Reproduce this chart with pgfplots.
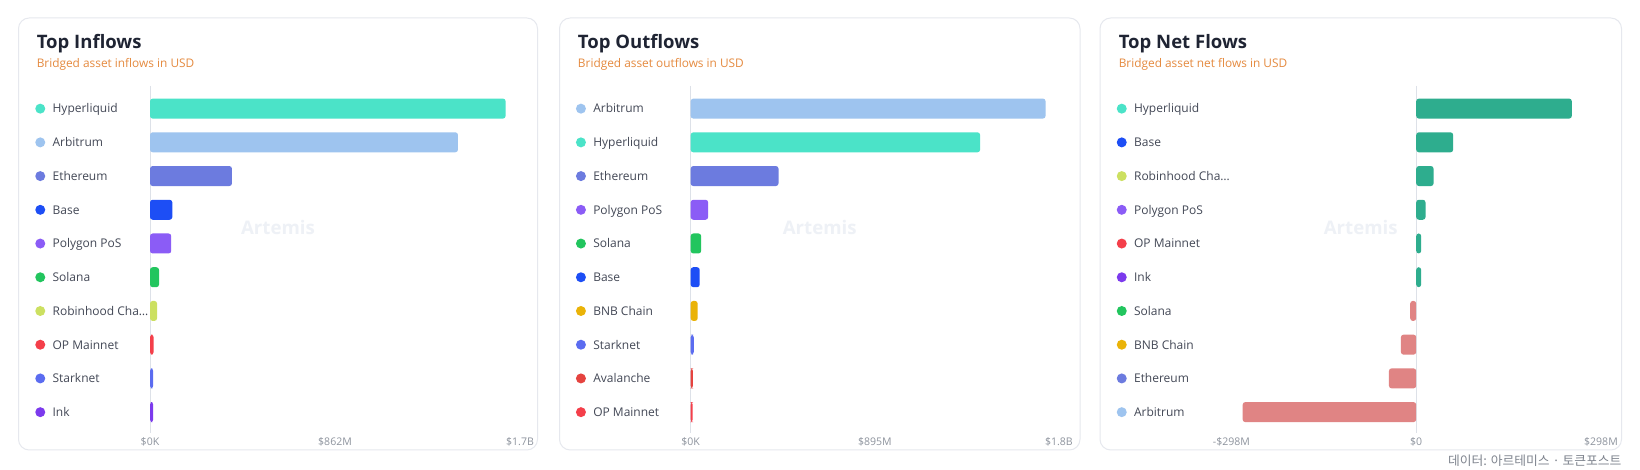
\documentclass[border=0pt]{standalone}
\usepackage{pgfplots}
\pgfplotsset{compat=1.18}
\usepackage{fontspec}
\setmainfont{Open Sans}
\newfontfamily\cjk{Noto Sans CJK KR}

\definecolor{hyper}{HTML}{4BE3C8}
\definecolor{arb}{HTML}{9EC4EF}
\definecolor{eth}{HTML}{6C7BDF}
\definecolor{base}{HTML}{1D4EF5}
\definecolor{poly}{HTML}{8B5CF6}
\definecolor{sol}{HTML}{22C55E}
\definecolor{robin}{HTML}{CCE061}
\definecolor{op}{HTML}{F43F4A}
\definecolor{stark}{HTML}{5B6CF0}
\definecolor{ink}{HTML}{7C3AED}
\definecolor{bnb}{HTML}{EAB308}
\definecolor{avax}{HTML}{E5433F}
\definecolor{netpos}{HTML}{2EAD8E}
\definecolor{netneg}{HTML}{E08484}
\definecolor{border}{HTML}{E6E8EE}
\definecolor{titlec}{HTML}{1F2433}
\definecolor{subc}{HTML}{E58A3F}
\definecolor{labc}{HTML}{434856}
\definecolor{tickc}{HTML}{8E949E}
\definecolor{zerol}{HTML}{DDE1E8}
\definecolor{wm}{HTML}{EEF1F6}
\definecolor{footc}{HTML}{80858F}

\newcommand{\lab}[2]{\tikz[baseline={(0,-3.25pt)}]\fill[#1] (0,0) circle (3.75pt);\hspace{5.5pt}#2}

\pgfplotsset{
  panel/.style={
    xbar, scale only axis,
    height=260.25pt,
    anchor=north west,
    y dir=reverse, ymin=-0.67, ymax=9.62,
    axis line style={draw=none},
    major tick length=0pt,
    ytick={0,1,2,3,4,5,6,7,8,9},
    yticklabel style={anchor=base west, inner sep=0pt, xshift=-86.25pt, yshift=-3.3pt,
      font=\fontsize{9}{11}\selectfont, text=labc},
    xticklabel style={anchor=base, inner sep=0pt, yshift=-9.5pt,
      font=\fontsize{7.9}{9}\selectfont, text=tickc},
    extra x ticks={0},
    extra x tick labels={},
    extra x tick style={grid=major, major grid style={color=zerol, line width=0.75pt}},
    clip=false,
  },
  b/.style={fill=#1, draw=none, bar width=15pt, bar shift=0pt, rounded corners=2pt},
}

\begin{document}
\begin{tikzpicture}[x=0.75pt,y=0.75pt]
\path[fill=white] (0,0) rectangle (1640,470);
% cards
\draw[border, line width=0.75pt, rounded corners=8pt, fill=white] (18.5,452) rectangle (537.5,20);
\draw[border, line width=0.75pt, rounded corners=8pt, fill=white] (559.5,452) rectangle (1080,20);
\draw[border, line width=0.75pt, rounded corners=8pt, fill=white] (1100,452) rectangle (1621.5,20);
% titles
\node[anchor=base west, inner sep=0pt, font=\bfseries\fontsize{13.9}{16}\selectfont, text=titlec] at (36.5,421.7) {Top Inflows};
\node[anchor=base west, inner sep=0pt, font=\fontsize{8.9}{10}\selectfont, text=subc] at (36.5,402.3) {Bridged asset inflows in USD};
\node[anchor=base west, inner sep=0pt, font=\bfseries\fontsize{13.9}{16}\selectfont, text=titlec] at (577.7,421.7) {Top Outflows};
\node[anchor=base west, inner sep=0pt, font=\fontsize{8.9}{10}\selectfont, text=subc] at (577.7,402.3) {Bridged asset outflows in USD};
\node[anchor=base west, inner sep=0pt, font=\bfseries\fontsize{13.9}{16}\selectfont, text=titlec] at (1118.5,421.7) {Top Net Flows};
\node[anchor=base west, inner sep=0pt, font=\fontsize{8.9}{10}\selectfont, text=subc] at (1118.5,402.3) {Bridged asset net flows in USD};
% watermarks
\node[font=\bfseries\fontsize{14}{16}\selectfont, text=wm] at (278,242.3) {Artemis};
\node[font=\bfseries\fontsize{14}{16}\selectfont, text=wm] at (819.7,242.3) {Artemis};
\node[font=\bfseries\fontsize{14}{16}\selectfont, text=wm] at (1360.7,242.3) {Artemis};
% footer
\node[anchor=east, inner sep=0pt, font=\cjk\fontsize{9.6}{11}\selectfont, text=footc] at (1621.7,9.3) {데이터: 아르테미스 · 토큰포스트};

% Panel 1: Top Inflows (USD millions)
\begin{axis}[panel, at={(112.5pt,288pt)}, width=277.5pt,
  xmin=0, xmax=1724, xtick={0,862,1724}, xticklabels={\$0K,\$862M,\$1.7B},
  yticklabels={\lab{hyper}{Hyperliquid},\lab{arb}{Arbitrum},\lab{eth}{Ethereum},\lab{base}{Base},\lab{poly}{Polygon PoS},\lab{sol}{Solana},\lab{robin}{Robinhood Cha…},\lab{op}{OP Mainnet},\lab{stark}{Starknet},\lab{ink}{Ink}}]
\addplot[b=hyper] coordinates {(1657,0)};
\addplot[b=arb] coordinates {(1435,1)};
\addplot[b=eth] coordinates {(382,2)};
\addplot[b=base] coordinates {(104,3)};
\addplot[b=poly] coordinates {(99,4)};
\addplot[b=sol] coordinates {(42,5)};
\addplot[b=robin] coordinates {(33,6)};
\addplot[b=op] coordinates {(17,7)};
\addplot[b=stark] coordinates {(15,8)};
\addplot[b=ink] coordinates {(15,9)};
\end{axis}

% Panel 2: Top Outflows
\begin{axis}[panel, at={(518.0pt,288pt)}, width=276.2pt,
  xmin=0, xmax=1790, xtick={0,895,1790}, xticklabels={\$0K,\$895M,\$1.8B},
  yticklabels={\lab{arb}{Arbitrum},\lab{hyper}{Hyperliquid},\lab{eth}{Ethereum},\lab{poly}{Polygon PoS},\lab{sol}{Solana},\lab{base}{Base},\lab{bnb}{BNB Chain},\lab{stark}{Starknet},\lab{avax}{Avalanche},\lab{op}{OP Mainnet}}]
\addplot[b=arb] coordinates {(1725,0)};
\addplot[b=hyper] coordinates {(1407,1)};
\addplot[b=eth] coordinates {(427,2)};
\addplot[b=poly] coordinates {(85,3)};
\addplot[b=sol] coordinates {(51,4)};
\addplot[b=base] coordinates {(44,5)};
\addplot[b=bnb] coordinates {(34,6)};
\addplot[b=stark] coordinates {(15,7)};
\addplot[b=avax] coordinates {(11,8)};
\addplot[b=op] coordinates {(10,9)};
\end{axis}

% Panel 3: Top Net Flows
\begin{axis}[panel, at={(923.6pt,288pt)}, width=277.1pt,
  xmin=-298, xmax=298, xtick={-298,0,298}, xticklabels={-\$298M,\$0,\$298M},
  yticklabels={\lab{hyper}{Hyperliquid},\lab{base}{Base},\lab{robin}{Robinhood Cha…},\lab{poly}{Polygon PoS},\lab{op}{OP Mainnet},\lab{ink}{Ink},\lab{sol}{Solana},\lab{bnb}{BNB Chain},\lab{eth}{Ethereum},\lab{arb}{Arbitrum}}]
\addplot[b=netpos] coordinates {(251,0)};
\addplot[b=netpos] coordinates {(59.6,1)};
\addplot[b=netpos] coordinates {(28,2)};
\addplot[b=netpos] coordinates {(15,3)};
\addplot[b=netpos] coordinates {(8,4)};
\addplot[b=netpos] coordinates {(8,5)};
\addplot[b=netneg] coordinates {(-9.7,6)};
\addplot[b=netneg] coordinates {(-24.7,7)};
\addplot[b=netneg] coordinates {(-44,8)};
\addplot[b=netneg] coordinates {(-280,9)};
\end{axis}
\end{tikzpicture}
\end{document}
